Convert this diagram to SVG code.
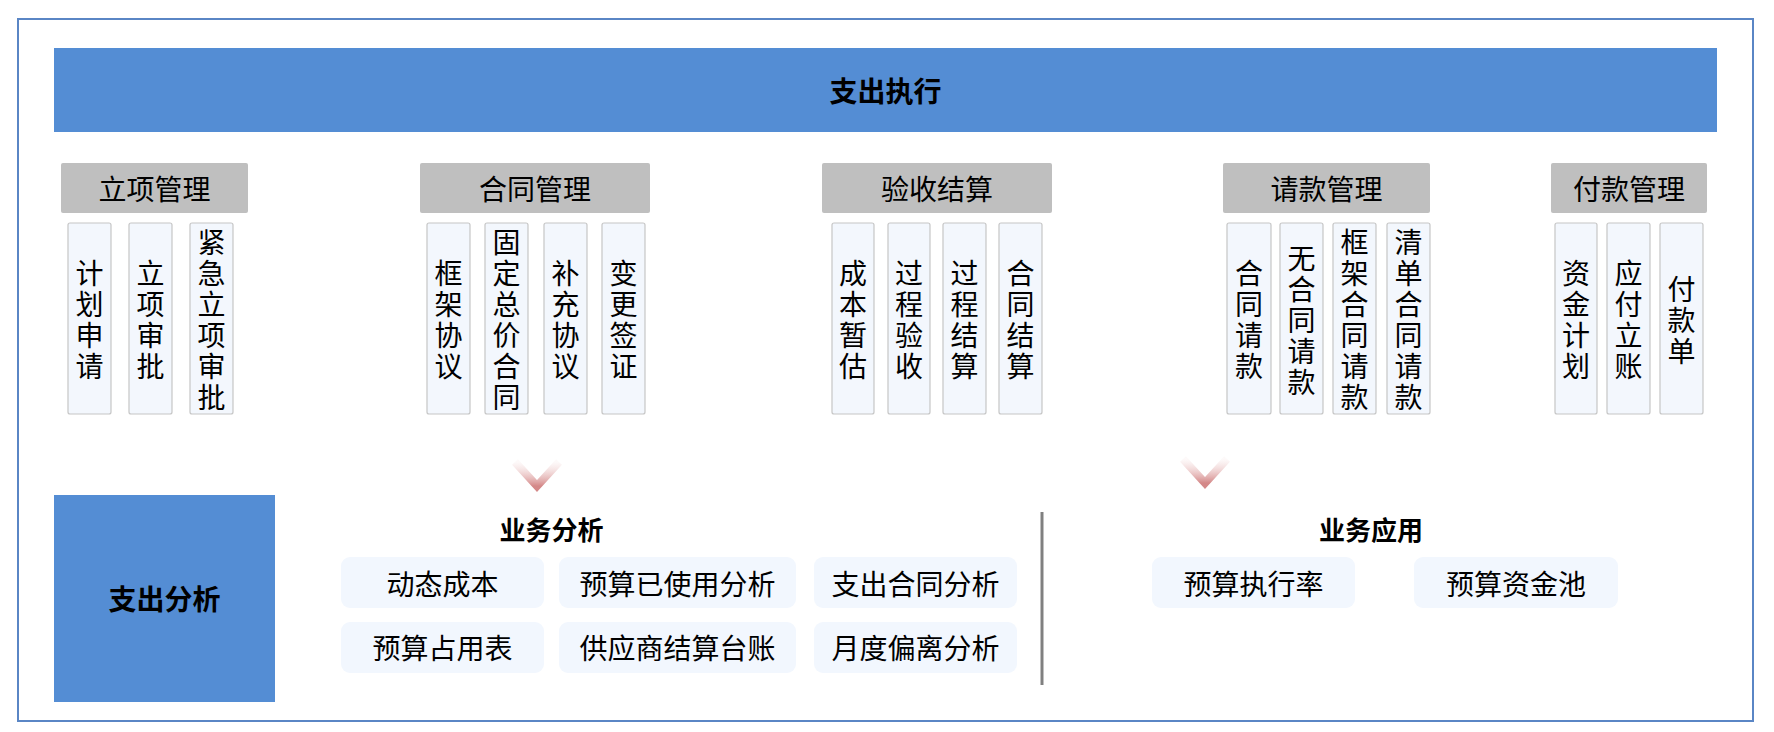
<svg xmlns="http://www.w3.org/2000/svg" width="1774" height="732" viewBox="0 0 1774 732">
<defs>
<linearGradient id="chev" x1="0" y1="0" x2="0" y2="1">
<stop offset="0" stop-color="#F3D9D9" stop-opacity="0.15"/>
<stop offset="1" stop-color="#D48888"/>
</linearGradient>
<style>
text{font-family:"Noto Sans CJK SC","Noto Sans",sans-serif;fill:#000;}
.bold{font-weight:700;font-size:28px;}
.cat rect{fill:#BFBFBF;}
.cat text{font-size:28px;text-anchor:middle;dominant-baseline:central;}
.sub rect{fill:#F3F7FD;stroke:#C6C6C6;stroke-width:1.2;}
.sub text{font-size:28px;text-anchor:middle;writing-mode:vertical-rl;text-orientation:upright;letter-spacing:3px;}
.an rect{fill:#F2F7FE;}
.an text{font-size:28px;text-anchor:middle;dominant-baseline:central;}
.hd{font-weight:700;font-size:26px;text-anchor:middle;dominant-baseline:central;}
.chev{fill:none;stroke:url(#chev);stroke-width:8;}
</style>
</defs>
<rect x="18" y="19" width="1735" height="702" fill="#fff" stroke="#5A86C5" stroke-width="2"/>

<g id="header">
<rect x="54" y="48" width="1663" height="84" fill="#548DD4"/>
<text class="bold" x="885.5" y="90" text-anchor="middle" dominant-baseline="central">支出执行</text>
</g>

<g id="cat-lixiang" class="cat"><rect x="61" y="163" width="187" height="50" rx="2"/><text x="154.5" y="188">立项管理</text></g>
<g id="cat-hetong" class="cat"><rect x="420" y="163" width="230" height="50" rx="2"/><text x="535" y="188">合同管理</text></g>
<g id="cat-yanshou" class="cat"><rect x="822" y="163" width="230" height="50" rx="2"/><text x="937" y="188">验收结算</text></g>
<g id="cat-qingkuan" class="cat"><rect x="1223" y="163" width="207" height="50" rx="2"/><text x="1326.5" y="188">请款管理</text></g>
<g id="cat-fukuan" class="cat"><rect x="1551" y="163" width="156" height="50" rx="2"/><text x="1629" y="188">付款管理</text></g>

<g id="s1" class="sub"><rect x="68" y="223" width="43" height="191" rx="2"/><text x="89.5" y="321.5">计划申请</text></g>
<g id="s2" class="sub"><rect x="129" y="223" width="43" height="191" rx="2"/><text x="150.5" y="321.5">立项审批</text></g>
<g id="s3" class="sub"><rect x="190" y="223" width="43" height="191" rx="2"/><text x="211.5" y="321.5">紧急立项审批</text></g>

<g id="s4" class="sub"><rect x="427" y="223" width="43" height="191" rx="2"/><text x="448.5" y="321.5">框架协议</text></g>
<g id="s5" class="sub"><rect x="485" y="223" width="43" height="191" rx="2"/><text x="506.5" y="321.5">固定总价合同</text></g>
<g id="s6" class="sub"><rect x="544" y="223" width="43" height="191" rx="2"/><text x="565.5" y="321.5">补充协议</text></g>
<g id="s7" class="sub"><rect x="602" y="223" width="43" height="191" rx="2"/><text x="623.5" y="321.5">变更签证</text></g>

<g id="s8" class="sub"><rect x="832" y="223" width="42" height="191" rx="2"/><text x="853" y="321.5">成本暂估</text></g>
<g id="s9" class="sub"><rect x="888" y="223" width="42" height="191" rx="2"/><text x="909" y="321.5">过程验收</text></g>
<g id="s10" class="sub"><rect x="943" y="223" width="43" height="191" rx="2"/><text x="964.5" y="321.5">过程结算</text></g>
<g id="s11" class="sub"><rect x="999" y="223" width="43" height="191" rx="2"/><text x="1020.5" y="321.5">合同结算</text></g>

<g id="s12" class="sub"><rect x="1227" y="223" width="44" height="191" rx="2"/><text x="1249" y="321.5">合同请款</text></g>
<g id="s13" class="sub"><rect x="1280" y="223" width="43" height="191" rx="2"/><text x="1301.5" y="321.5">无合同请款</text></g>
<g id="s14" class="sub"><rect x="1333" y="223" width="43" height="191" rx="2"/><text x="1354.5" y="321.5">框架合同请款</text></g>
<g id="s15" class="sub"><rect x="1387" y="223" width="43" height="191" rx="2"/><text x="1408.5" y="321.5">清单合同请款</text></g>

<g id="s16" class="sub"><rect x="1555" y="223" width="42" height="191" rx="2"/><text x="1576" y="321.5">资金计划</text></g>
<g id="s17" class="sub"><rect x="1607" y="223" width="43" height="191" rx="2"/><text x="1628.5" y="321.5">应付立账</text></g>
<g id="s18" class="sub"><rect x="1660" y="223" width="43" height="191" rx="2"/><text x="1681.5" y="321.5">付款单</text></g>

<g id="connectors">
<path class="chev" d="M515,462 L537,486 L559,462"/>
<path class="chev" d="M1183,459 L1205,483 L1227,459"/>
<line x1="1042" y1="512" x2="1042" y2="685" stroke="#808080" stroke-width="3"/>
</g>

<g id="analysis">
<rect x="54" y="495" width="221" height="207" fill="#548DD4"/>
<text class="bold" x="164.5" y="598" text-anchor="middle" dominant-baseline="central">支出分析</text>
</g>

<text class="hd" x="551.5" y="528">业务分析</text>
<text class="hd" x="1371" y="528">业务应用</text>

<g id="a1" class="an"><rect x="341" y="557" width="203" height="51" rx="9"/><text x="442.5" y="582.5">动态成本</text></g>
<g id="a2" class="an"><rect x="559" y="557" width="237" height="51" rx="9"/><text x="677.5" y="582.5">预算已使用分析</text></g>
<g id="a3" class="an"><rect x="814" y="557" width="203" height="51" rx="9"/><text x="915.5" y="582.5">支出合同分析</text></g>
<g id="a4" class="an"><rect x="341" y="622" width="203" height="51" rx="9"/><text x="442.5" y="647">预算占用表</text></g>
<g id="a5" class="an"><rect x="559" y="622" width="237" height="51" rx="9"/><text x="677.5" y="647">供应商结算台账</text></g>
<g id="a6" class="an"><rect x="814" y="622" width="203" height="51" rx="9"/><text x="915.5" y="647">月度偏离分析</text></g>
<g id="a7" class="an"><rect x="1152" y="557" width="203" height="51" rx="9"/><text x="1253.5" y="582.5">预算执行率</text></g>
<g id="a8" class="an"><rect x="1414" y="557" width="204" height="51" rx="9"/><text x="1516" y="582.5">预算资金池</text></g>
</svg>
